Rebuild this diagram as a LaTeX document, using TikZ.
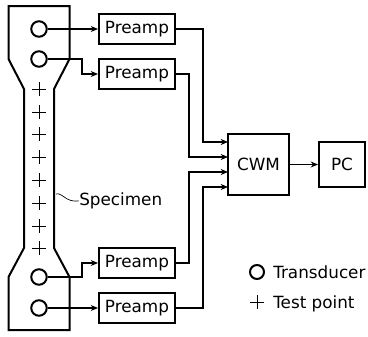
\documentclass[tikz,border=0pt]{standalone}
\usepackage{fontspec}
\setmainfont{DejaVu Sans}
\usetikzlibrary{arrows.meta,shapes.misc}
\begin{document}
\begin{tikzpicture}[x=0.75pt,y=-0.75pt,
  transducer/.style={circle,draw,line width=1.5pt,minimum size=15.5*0.75pt,inner sep=0pt},
  testpoint/.style={cross out,draw,line width=0.55pt,rotate=45,minimum size=7.4pt,inner sep=0pt,outer sep=0pt},
  blockbox/.style={draw,line width=1.45pt,inner sep=0pt,font=\fontsize{12.6}{14}\selectfont},
  wire/.style={line width=1.15pt},
  tipwire/.style={wire,-{Stealth[length=5.5pt,width=4.5pt]}},
  legendtext/.style={font=\fontsize{12.6}{14}\selectfont,anchor=base west,inner sep=0pt}]
  \useasboundingbox (0,0) rectangle (368,336);
  % specimen outline
  \draw[line width=1.5pt,line join=miter] (8.5,6)--(69.5,6)--(69.5,59)--(54,89)--(54,248)--(69.5,277)
     --(69.5,330)--(8.5,330)--(8.5,277)--(24,248)--(24,89)--(8.5,59)--cycle;
  % transducers and test points
  \foreach \n/\y in {1/29,2/59,3/277,4/308}
     {\node[transducer] (t\n) at (39,\y){};}
  \foreach \n/\y in {1/89,2/112,3/134,4/157,5/180,6/203,7/226,8/248}
     {\node[testpoint] (c\n) at (39,\y){};}
  % blocks
  \node[blockbox,minimum width=57pt,minimum height=22.5pt] (p1) at (137,29) {Preamp};
  \node[blockbox,minimum width=57pt,minimum height=22.5pt] (p2) at (137,74) {Preamp};
  \node[blockbox,minimum width=57pt,minimum height=22.5pt] (p3) at (137,263) {Preamp};
  \node[blockbox,minimum width=57pt,minimum height=22.5pt] (p4) at (137,308) {Preamp};
  \node[blockbox,minimum width=45.5pt,minimum height=45.5pt] (cwm) at (258.5,164.5) {CWM};
  \node[blockbox,minimum width=34.5pt,minimum height=34pt] (pc) at (342,164.5) {PC};
  \coordinate (in1) at (228,142);
  \coordinate (in2) at (228,157);
  \coordinate (in3) at (228,172);
  \coordinate (in4) at (228,187);
  % transducer wires
  \draw[tipwire] (t1.east)--(p1.west);
  \draw[tipwire] (t2.east)-|(82,74)--(p2.west);
  \draw[tipwire] (t3.east)-|(82,263)--(p3.west);
  \draw[tipwire] (t4.east)--(p4.west);
  % preamp wires
  \draw[tipwire] (p1.east)-|(203,142)--(in1);
  \draw[tipwire] (p2.east)-|(189,157)--(in2);
  \draw[tipwire] (p3.east)-|(189,172)--(in3);
  \draw[tipwire] (p4.east)-|(203,187)--(in4);
  \draw[tipwire] (cwm.east)--(pc.west);
  % specimen label
  \node[legendtext] (spec) at (79,205.5) {Specimen};
  \coordinate (specedge) at (56,194);
  \draw[line width=0.5pt] (specedge)..controls (62,192) and (66,203)..(spec.west);
  % legend
  \node[transducer,minimum size=10.5pt] (lt) at (257,272){};
  \node[legendtext] at (273,278) {Transducer};
  \node[testpoint] (lc) at (257,302){};
  \node[legendtext] at (273,308) {Test point};
\end{tikzpicture}
\end{document}
